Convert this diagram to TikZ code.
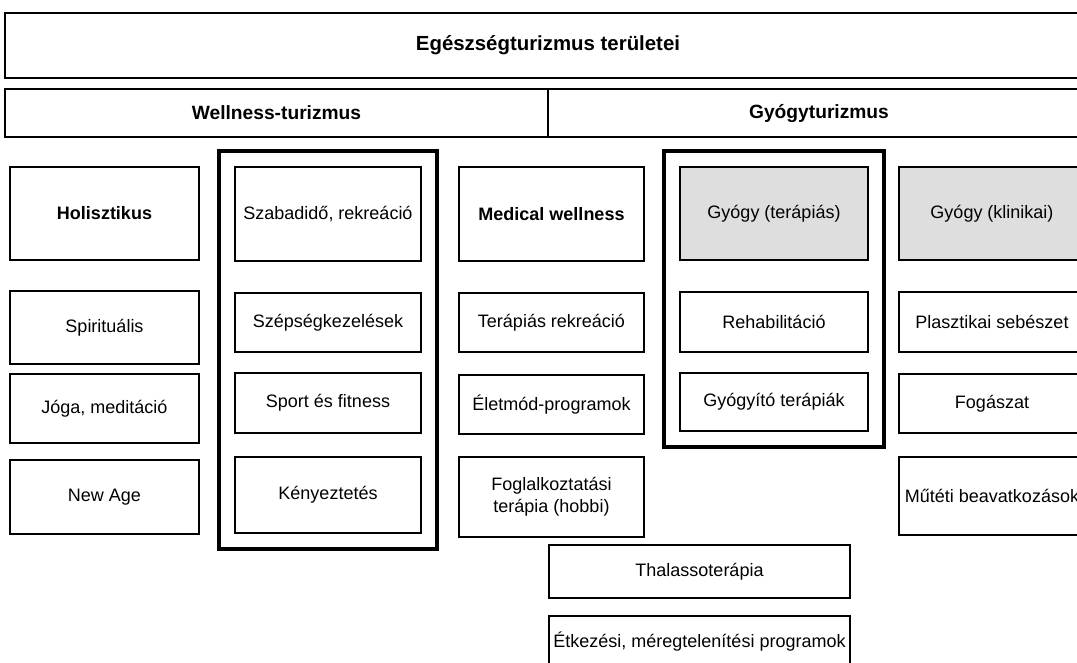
\documentclass[tikz,border=0pt]{standalone}
\usepackage{fontspec}
\setmainfont{Liberation Sans}
\usetikzlibrary{fit}

\begin{document}
\begin{tikzpicture}[x=0.5pt,y=-0.5pt,
  box/.style={draw,line width=1pt,align=center,inner sep=0pt,font=\fontsize{9}{11}\selectfont},
  head/.style={box,font=\fontsize{9}{11}\selectfont\bfseries},
  top/.style={box,font=\fontsize{9.6}{11}\selectfont\bfseries},
  grey/.style={fill=black!13},
  frame/.style={draw,line width=2.2pt,inner sep=7.5pt}]
\useasboundingbox (0,0) rectangle (1077,663);
\clip (0,0) rectangle (1077,663);
\node[top,font=\fontsize{10.2}{12}\selectfont\bfseries,minimum width=543pt,minimum height=32.5pt] (ter) at (548,45.5) {Egészségturizmus területei};
\node[top,minimum width=271.5pt,minimum height=24pt] (well) at (276.5,113) {Wellness-turizmus};
\node[top,minimum width=271pt,minimum height=24pt] (gyt) at (819,113) {Gyógyturizmus};
\node[head,minimum width=94.5pt,minimum height=46.5pt] (holi) at (104.5,213.5) {Holisztikus};
\node[box,minimum width=94.5pt,minimum height=36.5pt] (spir) at (104.5,327.5) {Spirituális};
\node[box,minimum width=94.5pt,minimum height=34.5pt] (joga) at (104.5,408.5) {Jóga, meditáció};
\node[box,minimum width=94.5pt,minimum height=37pt] (newage) at (104.5,497) {New Age};
\node[box,minimum width=93pt,minimum height=47pt] (szab) at (328,214) {Szabadidő, rekreáció};
\node[box,minimum width=93pt,minimum height=29.5pt] (szep) at (328,322.5) {Szépségkezelések};
\node[box,minimum width=93pt,minimum height=30pt] (sport) at (328,403) {Sport és fitness};
\node[box,minimum width=93pt,minimum height=38pt] (keny) at (328,495) {Kényeztetés};
\node[head,minimum width=92.5pt,minimum height=47pt] (medw) at (551.5,214) {Medical wellness};
\node[box,minimum width=92.5pt,minimum height=29.5pt] (terrek) at (551.5,322.5) {Terápiás rekreáció};
\node[box,minimum width=92.5pt,minimum height=29.5pt] (eletm) at (551.5,404.5) {Életmód-programok};
\node[box,minimum width=92.5pt,minimum height=40pt] (fogl) at (551.5,497) {Foglalkoztatási\\terápia (hobbi)};
\node[box,grey,minimum width=94pt,minimum height=46.5pt] (gyter) at (774,213.5) {Gyógy (terápiás)};
\node[box,minimum width=94pt,minimum height=30pt] (rehab) at (774,322) {Rehabilitáció};
\node[box,minimum width=94pt,minimum height=29pt] (gyito) at (774,402) {Gyógyító terápiák};
\node[box,grey,minimum width=93pt,minimum height=46.5pt] (gykl) at (992,213.5) {Gyógy (klinikai)};
\node[box,minimum width=93pt,minimum height=30pt] (plaszt) at (992,322) {Plasztikai sebészet};
\node[box,minimum width=93pt,minimum height=29.5pt] (fogasz) at (992,403.5) {Fogászat};
\node[box,minimum width=93pt,minimum height=39pt] (mutet) at (992,496) {Műtéti beavatkozások};
\node[box,minimum width=150.5pt,minimum height=26.5pt] (thal) at (699.5,571.5) {Thalassoterápia};
\node[box,minimum width=150.5pt,minimum height=26pt] (etk) at (699.5,642) {Étkezési, méregtelenítési programok};
\node[frame,fit=(szab)(keny)] (wfr) {};
\node[frame,fit=(gyter)(gyito)] (gyfr) {};
\end{tikzpicture}
\end{document}
